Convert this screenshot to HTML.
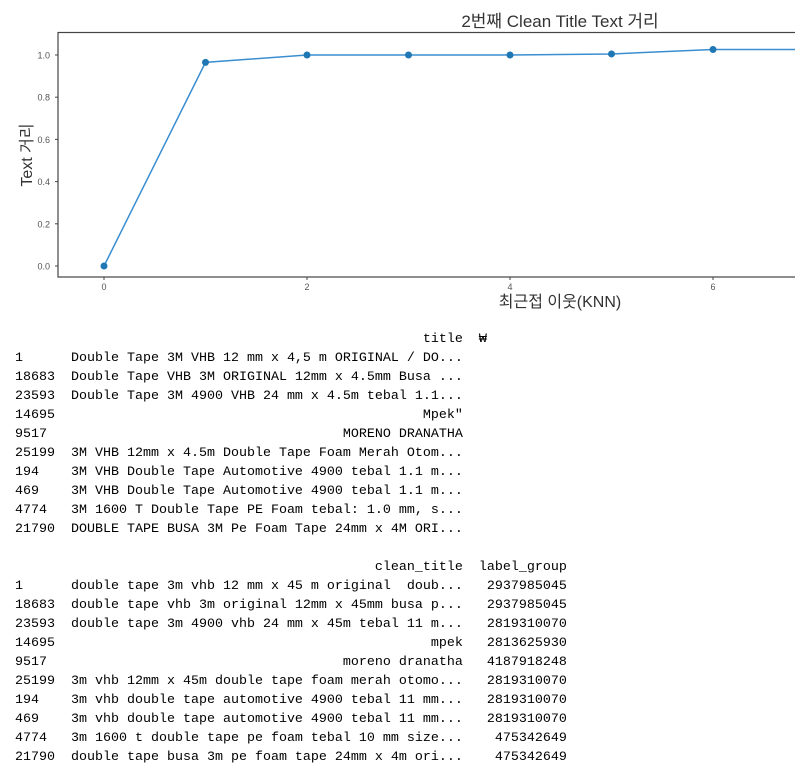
<!DOCTYPE html>
<html><head><meta charset="utf-8">
<style>
html,body{margin:0;padding:0;background:#fff;width:795px;height:769px;overflow:hidden;position:relative}
svg{position:absolute;left:0;top:0}
pre{position:absolute;left:15px;top:330px;margin:0;font-family:"Liberation Mono","Noto Sans CJK KR",monospace;font-size:13.33px;line-height:19px;color:#000;white-space:pre}
</style></head><body>
<svg id="chart" width="795" height="320" xmlns="http://www.w3.org/2000/svg"></svg>
<pre id="table"></pre>
<script>
const xValues=[0,1,2,3,4,5,6,7];
const yValues=[0.0,0.965,1.0,1.0,1.0,1.005,1.026,1.026];
const xTicks=[0,2,4,6];
const yTicks=[0.0,0.2,0.4,0.6,0.8,1.0];
const NS="http://www.w3.org/2000/svg";
const svg=document.getElementById('chart');
const L=58,T=32.5,B=277,R=800;
const xs=v=>104+101.5*v;
const ys=v=>266-211*v;
function mk(t,a,txt){const e=document.createElementNS(NS,t);for(const k in a)e.setAttribute(k,a[k]);if(txt!==undefined)e.textContent=txt;svg.appendChild(e);return e;}
const f='"Liberation Sans","Noto Sans CJK KR",sans-serif';
let e=mk('rect',{x:L,y:T,width:R-L,height:B-T,fill:'none',stroke:'#444','stroke-width':1.2});

yTicks.forEach(v=>{
 let t=mk('line',{x1:L-3,x2:L,y1:ys(v),y2:ys(v),stroke:'#444'});
 
 let l=mk('text',{x:L-8,y:ys(v)+3.5,'text-anchor':'end','font-size':9,fill:'#555','font-family':f},v.toFixed(1));
 
});
xTicks.forEach(v=>{
 let t=mk('line',{x1:xs(v),x2:xs(v),y1:B,y2:B+3,stroke:'#444'});
 
 let l=mk('text',{x:xs(v),y:B+13,'text-anchor':'middle','font-size':9,fill:'#555','font-family':f},String(v));
 
});
let pl=mk('polyline',{points:xValues.map((x,i)=>xs(x)+','+ys(yValues[i])).join(' '),fill:'none',stroke:'#3a8ed0','stroke-width':1.5});

xValues.forEach((x,i)=>{
 let c=mk('circle',{cx:xs(x),cy:ys(yValues[i]),r:3.5,fill:'#1f77b4'});
 
});
let ti=mk('text',{x:560,y:27,'text-anchor':'middle','font-size':17,fill:'#333','font-family':f},'2번째 Clean Title Text 거리');

let xl=mk('text',{x:560,y:307,'text-anchor':'middle','font-size':16,fill:'#333','font-family':f},'최근접 이웃(KNN)');

let yl=mk('text',{x:0,y:0,'text-anchor':'middle','font-size':16,fill:'#333','font-family':f,transform:'translate(32,155) rotate(-90)'},'Text 거리');


const idx=['1','18683','23593','14695','9517','25199','194','469','4774','21790'];
const titles=['Double Tape 3M VHB 12 mm x 4,5 m ORIGINAL / DO...','Double Tape VHB 3M ORIGINAL 12mm x 4.5mm Busa ...','Double Tape 3M 4900 VHB 24 mm x 4.5m tebal 1.1...','Mpek"','MORENO DRANATHA','3M VHB 12mm x 4.5m Double Tape Foam Merah Otom...','3M VHB Double Tape Automotive 4900 tebal 1.1 m...','3M VHB Double Tape Automotive 4900 tebal 1.1 m...','3M 1600 T Double Tape PE Foam tebal: 1.0 mm, s...','DOUBLE TAPE BUSA 3M Pe Foam Tape 24mm x 4M ORI...'];
const clean=['double tape 3m vhb 12 mm x 45 m original  doub...','double tape vhb 3m original 12mm x 45mm busa p...','double tape 3m 4900 vhb 24 mm x 45m tebal 11 m...','mpek','moreno dranatha','3m vhb 12mm x 45m double tape foam merah otomo...','3m vhb double tape automotive 4900 tebal 11 mm...','3m vhb double tape automotive 4900 tebal 11 mm...','3m 1600 t double tape pe foam tebal 10 mm size...','double tape busa 3m pe foam tape 24mm x 4m ori...'];
const groups=['2937985045','2937985045','2819310070','2813625930','4187918248','2819310070','2819310070','2819310070','475342649','475342649'];
let out=[];
out.push(' '.repeat(7)+'title'.padStart(49)+'  ₩');
idx.forEach((k,i)=>out.push(k.padEnd(7)+titles[i].padStart(49)));
out.push('');
out.push(' '.repeat(7)+'clean_title'.padStart(49)+'  label_group');
idx.forEach((k,i)=>out.push(k.padEnd(7)+clean[i].padStart(49)+groups[i].padStart(13)));
document.getElementById('table').textContent=out.join('\n');
</script>
</body></html>
